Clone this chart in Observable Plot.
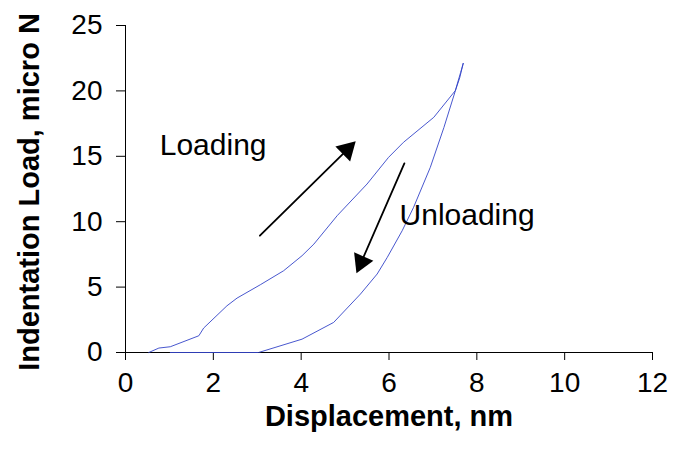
<!DOCTYPE html>
<html>
<head>
<meta charset="utf-8">
<script src="https://cdn.jsdelivr.net/npm/d3@7"></script>
<script src="https://cdn.jsdelivr.net/npm/@observablehq/plot@0.6"></script>
<style>
  html, body { margin: 0; padding: 0; background: #ffffff; }
  #chart svg { display: block; }
</style>
</head>
<body>
<div id="chart"></div>
<script>
// ---- data ----
const xTitle = "Displacement, nm";
const yTitle = "Indentation Load, micro N";
const xTicks = [0, 2, 4, 6, 8, 10, 12];
const yTicks = [0, 5, 10, 15, 20, 25];
const xDomain = [0, 12];
const yDomain = [0, 25];

// loading branch (displacement nm, load µN)
const loadX = [0.53, 0.76, 1.02, 1.67, 1.78, 2.31, 2.54, 3.07, 3.60, 4.02, 4.29, 4.82, 5.50, 5.99, 6.33, 7.02, 7.51, 7.63, 7.69];
const loadY = [0.00, 0.34, 0.44, 1.28, 1.87, 3.57, 4.16, 5.18, 6.25, 7.40, 8.29, 10.46, 12.88, 14.92, 16.07, 17.98, 20.02, 21.40, 22.10];

// unloading branch
const unloadX = [7.69, 7.61, 7.51, 7.25, 6.94, 6.56, 6.30, 5.96, 5.73, 5.35, 4.74, 4.02, 3.03, 1.02];
const unloadY = [22.10, 21.00, 20.00, 17.20, 14.15, 11.10, 9.31, 7.27, 6.00, 4.47, 2.30, 1.02, 0.00, 0.00];

// annotations
const labelText = ["Loading", "Unloading"];
const labelX = [0.78, 6.24];
const labelY = [15.13, 9.77];

// arrows: tail (x1,y1) -> tip (x2,y2)
const arrowX1 = [3.06, 6.35];
const arrowY1 = [8.93, 14.46];
const arrowX2 = [5.24, 5.26];
const arrowY2 = [16.14, 6.07];

// ---- layout ----
const W = 683, H = 461, ML = 125, MR = 31, MT = 25, MB = 109;
const kx = (W - ML - MR) / (xDomain[1] - xDomain[0]);
const ky = (H - MT - MB) / (yDomain[1] - yDomain[0]);
const headR = 7.8;
const headC = 12; // tip-to-centroid distance of the triangle symbol

const loading = loadX.map((x, i) => ({x, y: loadY[i]}));
const unloading = unloadX.map((x, i) => ({x, y: unloadY[i]}));
const labels = labelText.map((t, i) => ({t, x: labelX[i], y: labelY[i]}));
const arrows = arrowX1.map((x1, i) => {
  const a = {x1, y1: arrowY1[i], x2: arrowX2[i], y2: arrowY2[i]};
  const dxp = (a.x2 - a.x1) * kx, dyp = -(a.y2 - a.y1) * ky;
  const len = Math.hypot(dxp, dyp);
  a.ux = dxp / len; a.uy = dyp / len;
  a.rot = Math.atan2(dxp, -dyp) * 180 / Math.PI;
  return a;
});

const lineColor = "#3344c8";
const font = "'Liberation Sans', Arial, Helvetica, sans-serif";

const marks = [
  Plot.axisX({ticks: xTicks, tickSize: 8, tickPadding: 12, label: null, fontSize: 28, tickFormat: d => String(d)}),
  Plot.axisY({ticks: yTicks, tickSize: 9, tickPadding: 14, label: null, fontSize: 28, tickFormat: d => String(d)}),
  Plot.ruleY([yDomain[0]], {stroke: "black", strokeWidth: 1}),
  Plot.ruleX([xDomain[0]], {y1: yDomain[0], y2: yDomain[1], stroke: "black", strokeWidth: 1}),
  Plot.text([xTitle], {text: d => d, frameAnchor: "bottom", dy: 73, lineAnchor: "bottom", fontSize: 29, fontWeight: "bold", fill: "black"}),
  Plot.text([yTitle], {text: d => d, frameAnchor: "left", dx: -107, dy: 3, rotate: -90, lineAnchor: "top", textAnchor: "middle", fontSize: 29, fontWeight: "bold", fill: "black"}),
  Plot.line(loading, {x: "x", y: "y", stroke: lineColor, strokeWidth: 0.9, curve: "linear"}),
  Plot.line(unloading, {x: "x", y: "y", stroke: lineColor, strokeWidth: 0.9, curve: "linear"}),
  Plot.text(labels, {x: "x", y: "y", text: "t", textAnchor: "start", lineAnchor: "bottom", fontSize: 30, fill: "black"})
];
for (const a of arrows) {
  marks.push(Plot.arrow([a], {x1: "x1", y1: "y1", x2: "x2", y2: "y2", headLength: 0, insetEnd: headC, stroke: "black", strokeWidth: 1.8, bend: 0}));
  marks.push(Plot.dot([a], {x: "x2", y: "y2", symbol: "triangle", r: headR, fill: "black", stroke: "none", rotate: "rot", dx: -a.ux * headC, dy: -a.uy * headC}));
}

const chart = Plot.plot({
  width: W, height: H,
  marginLeft: ML, marginRight: MR, marginTop: MT, marginBottom: MB,
  style: {fontFamily: font, background: "white", color: "black", overflow: "visible"},
  x: {domain: xDomain},
  y: {domain: yDomain},
  marks
});
document.getElementById("chart").appendChild(chart);
</script>
</body>
</html>
